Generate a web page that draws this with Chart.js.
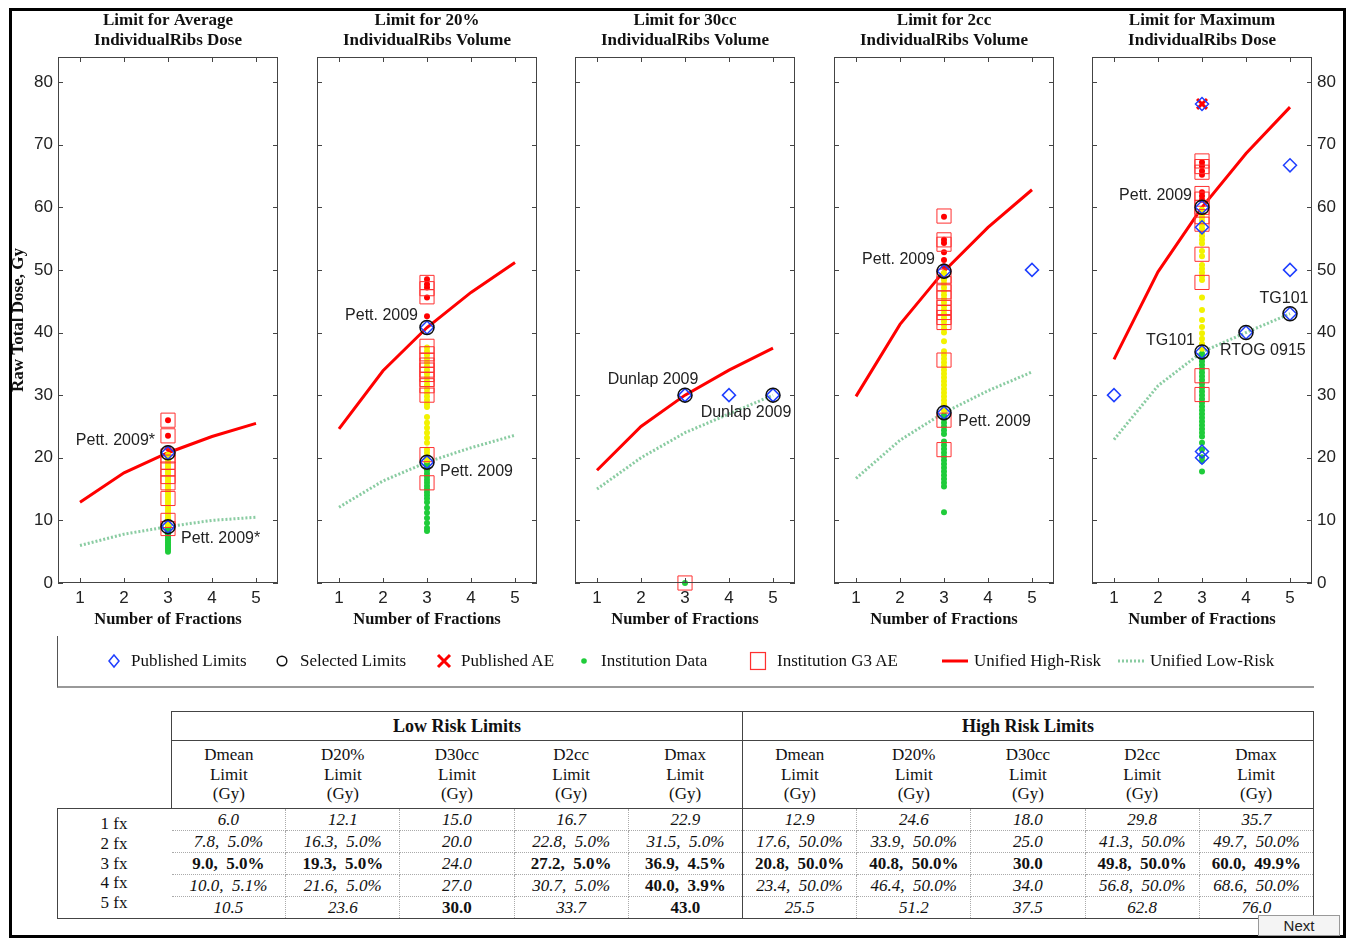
<!DOCTYPE html>
<html>
<head>
<meta charset="utf-8">
<script src="https://cdn.jsdelivr.net/npm/chart.js@4.4.0/dist/chart.umd.min.js"></script>
<style>
  body { margin: 0; background: #fff; width: 1349px; height: 938px; position: relative; overflow: hidden; font-family: "Liberation Serif", serif; color: #111; }
  #frame { position: absolute; left: 9px; top: 8px; width: 1331px; height: 924px; border: 3px solid #000; }
  .panel { position: absolute; top: 0; }
  #legend { position: absolute; left: 57px; top: 636px; width: 1256px; height: 50px; border-left: 1px solid #555; border-bottom: 2px solid #999; }
  .mk { position: absolute; top: 25px; transform: translate(-50%, -50%); line-height: 0; }
  .lt { position: absolute; top: 0; height: 50px; line-height: 50px; font-size: 17px; white-space: nowrap; }
  #limits { position: absolute; left: 57px; top: 711px; border-collapse: collapse; table-layout: fixed; width: 1256px; font-size: 17px; color: #111; }
  #limits td { padding: 0; text-align: center; white-space: nowrap; }
  #limits tr.h1 td { height: 28px; font-weight: bold; font-size: 18px; }
  #limits tr.h2 td { height: 67px; line-height: 19.5px; }
  #limits tr.d td { height: 21px; line-height: 21px; font-style: italic; }
  #limits tr.d td.b { font-weight: bold; font-style: normal; }
  #rowlabels { position: absolute; left: 57px; top: 814px; width: 114px; text-align: center; font-size: 17px; line-height: 19.8px; }
  #next { position: absolute; left: 1258px; top: 915px; width: 80px; height: 19px; border: 1px solid #999; background: #f4f4f4; font-family: "Liberation Sans", sans-serif; font-size: 15px; line-height: 19px; text-align: center; color: #222; }
</style>
</head>
<body>
<div id="frame"></div>
<div class="panel" style="left:0px"><canvas id="p0" width="336" height="640"></canvas></div>
<div class="panel" style="left:259px"><canvas id="p1" width="336" height="640"></canvas></div>
<div class="panel" style="left:517px"><canvas id="p2" width="336" height="640"></canvas></div>
<div class="panel" style="left:776px"><canvas id="p3" width="336" height="640"></canvas></div>
<div class="panel" style="left:1034px"><canvas id="p4" width="336" height="640"></canvas></div>
<div id="legend"></div>
<table id="limits"></table>
<div id="rowlabels"></div>
<div id="next">Next</div>

<script>
const fractions = [1, 2, 3, 4, 5];
const fxLabels = ['1 fx', '2 fx', '3 fx', '4 fx', '5 fx'];
const metrics = ['Dmean', 'D20%', 'D30cc', 'D2cc', 'Dmax'];
const panelTitles = [
  ['Limit for Average', 'IndividualRibs Dose'],
  ['Limit for 20%', 'IndividualRibs Volume'],
  ['Limit for 30cc', 'IndividualRibs Volume'],
  ['Limit for 2cc', 'IndividualRibs Volume'],
  ['Limit for Maximum', 'IndividualRibs Dose']
];
const yTicks = [0, 10, 20, 30, 40, 50, 60, 70, 80];

// unified limits, Gy, for 1..5 fractions
const lowDmean = [6.0, 7.8, 9.0, 10.0, 10.5];
const lowD20 = [12.1, 16.3, 19.3, 21.6, 23.6];
const lowD30cc = [15.0, 20.0, 24.0, 27.0, 30.0];
const lowD2cc = [16.7, 22.8, 27.2, 30.7, 33.7];
const lowDmax = [22.9, 31.5, 36.9, 40.0, 43.0];
const highDmean = [12.9, 17.6, 20.8, 23.4, 25.5];
const highD20 = [24.6, 33.9, 40.8, 46.4, 51.2];
const highD30cc = [18.0, 25.0, 30.0, 34.0, 37.5];
const highD2cc = [29.8, 41.3, 49.8, 56.8, 62.8];
const highDmax = [35.7, 49.7, 60.0, 68.6, 76.0];

// risk (%) printed next to the limit
const lowPctDmean = [null, 5.0, 5.0, 5.1, null];
const lowPctD20 = [null, 5.0, 5.0, 5.0, null];
const lowPctD30cc = [null, null, null, null, null];
const lowPctD2cc = [null, 5.0, 5.0, 5.0, null];
const lowPctDmax = [null, 5.0, 4.5, 3.9, null];
const highPctDmean = [null, 50.0, 50.0, 50.0, null];
const highPctD20 = [null, 50.0, 50.0, 50.0, null];
const highPctD30cc = [null, null, null, null, null];
const highPctD2cc = [null, 50.0, 50.0, 50.0, null];
const highPctDmax = [null, 50.0, 49.9, 50.0, null];

// which fractionations are "selected" limits (bold in table, circled in plot)
const selectedLowFx = [[3], [3], [5], [3], [3, 4, 5]];
const selectedHighFx = [[3], [3], [3], [3], [3]];

// published limits [fx, Gy]
const pubDmean = [[3, 20.8], [3, 9.0]];
const pubD20 = [[3, 40.8], [3, 19.3]];
const pubD30cc = [[3, 30], [4, 30], [5, 30]];
const pubD2cc = [[3, 49.8], [3, 27.2], [5, 50]];
const pubDmax = [[1, 30], [3, 76.5], [3, 60], [3, 56.8], [3, 36.9], [3, 21], [3, 20], [4, 40], [5, 66.7], [5, 50], [5, 43]];
// published adverse events [fx, Gy]
const aeDmax = [[3, 76.5]];

// institution data, all at 3 fractions (Gy)
const instDmean = [5.0, 5.3, 5.6, 5.9, 6.2, 6.5, 6.8, 7.1, 7.4, 7.7, 8.0, 8.3, 8.6, 8.9, 9.3, 9.7, 10.1, 10.5, 10.9, 11.3, 11.7, 12.1, 12.5, 12.9, 13.3, 13.7, 14.1, 14.5, 14.9, 15.3, 15.7, 16.1, 16.5, 16.9, 17.3, 17.7, 18.1, 18.5, 18.9, 19.3, 19.7, 20.1, 20.5, 21.5, 23.5, 26.0];
const instD20 = [8.3, 8.8, 9.6, 10.4, 11.2, 12.0, 12.9, 13.5, 14.0, 14.5, 15.0, 15.5, 16.0, 16.5, 17.0, 17.5, 18.0, 18.5, 19.0, 19.6, 20.2, 20.8, 21.3, 22.4, 23.2, 24.0, 24.8, 25.6, 26.5, 28.1, 28.6, 29.2, 29.8, 30.4, 31.0, 31.6, 32.2, 32.8, 33.4, 34.0, 34.6, 35.2, 35.8, 36.4, 37.0, 37.6, 42.6, 45.6, 47.2, 47.7, 48.5];
const instD30cc = [0.0];
const instD2cc = [11.3, 15.4, 16.0, 16.6, 17.2, 17.8, 18.4, 19.0, 19.6, 20.2, 20.8, 21.4, 22.0, 22.6, 23.8, 24.4, 25.0, 25.6, 26.2, 26.8, 27.6, 28.0, 28.6, 29.2, 29.8, 30.4, 31.0, 31.6, 32.2, 32.8, 33.4, 34.0, 34.6, 35.2, 35.8, 36.4, 37.0, 38.6, 40.0, 40.6, 41.2, 41.8, 42.4, 43.0, 43.6, 44.2, 44.8, 45.4, 46.0, 46.6, 47.2, 47.8, 48.4, 49.0, 49.5, 50.6, 51.6, 52.8, 54.3, 54.8, 58.5];
const instDmax = [17.8, 19.5, 20.1, 21.3, 22.4, 23.4, 24.0, 24.6, 25.2, 25.8, 26.4, 27.0, 27.6, 28.2, 28.8, 29.4, 30.0, 30.6, 31.2, 31.8, 32.4, 33.0, 33.6, 34.2, 34.8, 35.4, 36.0, 36.6, 37.4, 38.2, 39.0, 39.9, 40.9, 42.0, 43.6, 45.6, 48.4, 49.0, 49.6, 50.2, 50.8, 52.2, 53.0, 54.2, 54.8, 55.4, 56.0, 56.6, 57.2, 57.8, 58.4, 59.0, 59.6, 61.2, 61.8, 62.4, 65.2, 65.8, 66.6, 67.2];

// institution grade 3 adverse events, 3 fractions (Gy)
const g3Dmean = [26.0, 23.5, 20.3, 19.3, 18.2, 17.0, 16.0, 13.5, 10.0, 8.7];
const g3D20 = [48.0, 47.0, 45.7, 37.8, 36.6, 35.6, 34.8, 34.0, 33.3, 32.5, 31.5, 30.0, 20.5, 16.0];
const g3D30cc = [0.0];
const g3D2cc = [58.6, 54.8, 54.1, 49.0, 47.8, 46.5, 45.5, 44.0, 43.2, 42.4, 41.6, 35.6, 26.0, 21.3];
const g3Dmax = [67.4, 66.5, 65.6, 62.2, 61.3, 60.0, 58.5, 57.3, 52.5, 48.0, 33.1, 30.1];

// reference labels [text, fx, Gy]
const refLabels = [
  [['Pett. 2009*', 3, 20.8], ['Pett. 2009*', 3, 9.0]],
  [['Pett. 2009', 3, 40.8], ['Pett. 2009', 3, 19.3]],
  [['Dunlap 2009', 3, 30], ['Dunlap 2009', 5, 30]],
  [['Pett. 2009', 3, 49.8], ['Pett. 2009', 3, 27.2]],
  [['Pett. 2009', 3, 60], ['TG101', 3, 36.9], ['RTOG 0915', 4, 40], ['TG101', 5, 43]]
];
// where each label sits relative to its point: [dx px, dy px, align]
const labelPlacement = [
  [[-13, -12, 'right'], [13, 12, 'left']],
  [[-9, -12, 'right'], [13, 9, 'left']],
  [[-32, -16, 'center'], [-27, 17, 'center']],
  [[-9, -12, 'right'], [14, 9, 'left']],
  [[-10, -12, 'right'], [-7, -11, 'right'], [-26, 18, 'left'], [-6, -15, 'center']]
];

const lowLimits = [lowDmean, lowD20, lowD30cc, lowD2cc, lowDmax];
const highLimits = [highDmean, highD20, highD30cc, highD2cc, highDmax];
const lowPct = [lowPctDmean, lowPctD20, lowPctD30cc, lowPctD2cc, lowPctDmax];
const highPct = [highPctDmean, highPctD20, highPctD30cc, highPctD2cc, highPctDmax];
const published = [pubDmean, pubD20, pubD30cc, pubD2cc, pubDmax];
const publishedAE = [[], [], [], [], aeDmax];
const institution = [instDmean, instD20, instD30cc, instD2cc, instDmax];
const g3events = [g3Dmean, g3D20, g3D30cc, g3D2cc, g3Dmax];

const RED = '#ff0000', YELLOW = '#f2f200', GREEN = '#1fcc3a', BLUE = '#1f3fff';
const LOWLINE = 'rgba(60,170,100,0.6)';
const SANS = '"Liberation Sans", Arial, sans-serif';
const SERIF = '"Liberation Serif", "Times New Roman", serif';

Chart.defaults.font.family = SANS;
Chart.defaults.color = '#222';

// MATLAB-like box with inward ticks on every side
const boxTicks = {
  id: 'boxTicks',
  afterDraw(chart) {
    const { ctx, chartArea: a, scales: { x, y } } = chart;
    ctx.save();
    ctx.strokeStyle = '#444';
    ctx.lineWidth = 1;
    ctx.strokeRect(a.left + 0.5, a.top + 0.5, a.width - 1, a.height - 1);
    ctx.beginPath();
    x.ticks.forEach(t => {
      const px = Math.round(x.getPixelForValue(t.value)) + 0.5;
      ctx.moveTo(px, a.bottom); ctx.lineTo(px, a.bottom - 5);
      ctx.moveTo(px, a.top); ctx.lineTo(px, a.top + 5);
    });
    y.ticks.forEach(t => {
      const py = Math.round(y.getPixelForValue(t.value)) + 0.5;
      ctx.moveTo(a.left, py); ctx.lineTo(a.left + 5, py);
      ctx.moveTo(a.right, py); ctx.lineTo(a.right - 5, py);
    });
    ctx.stroke();
    ctx.restore();
  }
};

const refLabelPlugin = {
  id: 'refLabels',
  afterDatasetsDraw(chart, args, opts) {
    const { ctx, scales: { x, y } } = chart;
    ctx.save();
    ctx.font = '16px ' + SANS;
    ctx.fillStyle = '#222';
    ctx.textBaseline = 'middle';
    opts.items.forEach((it, i) => {
      const [dx, dy, align] = opts.place[i];
      ctx.textAlign = align;
      ctx.fillText(it[0], x.getPixelForValue(it[1]) + dx, y.getPixelForValue(it[2]) + dy);
    });
    ctx.restore();
  }
};

function yAxis(position, showLabels, title) {
  return {
    type: 'linear', position: position, min: 0, max: 84,
    afterBuildTicks: s => { s.ticks = yTicks.map(v => ({ value: v })); },
    afterFit: s => { s.width = 58; },
    grid: { display: false, drawTicks: false }, border: { display: false },
    ticks: { display: showLabels, padding: 5, font: { size: 17 } },
    title: title ? { display: true, text: title, font: { family: SERIF, size: 17, weight: 'bold' }, padding: { top: 8, bottom: 0 }, color: '#111' } : { display: false }
  };
}

metrics.forEach((m, i) => {
  const low = lowLimits[i], high = highLimits[i];
  const selected = selectedLowFx[i].map(fx => ({ x: fx, y: low[fx - 1] }))
    .concat(selectedHighFx[i].map(fx => ({ x: fx, y: high[fx - 1] })));
  const instColors = institution[i].map(v => v > high[2] ? RED : (v < low[2] ? GREEN : YELLOW));

  new Chart(document.getElementById('p' + i), {
    type: 'scatter',
    data: {
      datasets: [
        { label: 'Selected Limits', data: selected, pointStyle: 'circle', pointRadius: 7, borderColor: '#111', borderWidth: 1.5, backgroundColor: 'rgba(0,0,0,0)', clip: false },
        { label: 'Published Limits', data: published[i].map(p => ({ x: p[0], y: p[1] })), pointStyle: 'rectRot', pointRadius: 6.5, borderColor: BLUE, borderWidth: 1.5, backgroundColor: 'rgba(0,0,0,0)', clip: false },
        { label: 'Published AE', data: publishedAE[i].map(p => ({ x: p[0], y: p[1] })), pointStyle: 'crossRot', pointRadius: 7, borderColor: RED, borderWidth: 3, clip: false },
        { label: 'Institution G3 AE', data: g3events[i].map(v => ({ x: 3, y: v })), pointStyle: 'rect', pointRadius: 10, borderColor: '#ff3030', borderWidth: 1, backgroundColor: 'rgba(0,0,0,0)', clip: false },
        { label: 'Institution Data', data: institution[i].map(v => ({ x: 3, y: v })), pointStyle: 'circle', pointRadius: 3, borderWidth: 0, backgroundColor: instColors, clip: false },
        { label: 'Unified High-Risk', data: fractions.map((fx, k) => ({ x: fx, y: high[k] })), showLine: true, pointRadius: 0, borderColor: RED, borderWidth: 3, tension: 0 },
        { label: 'Unified Low-Risk', data: fractions.map((fx, k) => ({ x: fx, y: low[k] })), showLine: true, pointRadius: 0, borderColor: LOWLINE, borderWidth: 3, borderDash: [2, 2], tension: 0 }
      ]
    },
    options: {
      responsive: false,
      animation: false,
      devicePixelRatio: 1,
      layout: { padding: 0 },
      scales: {
        x: {
          type: 'linear', min: 0.5, max: 5.5,
          afterBuildTicks: s => { s.ticks = fractions.map(v => ({ value: v })); },
          afterFit: s => { s.height = 57; },
          grid: { display: false, drawTicks: false }, border: { display: false },
          ticks: { padding: 5, font: { size: 17 } },
          title: { display: true, text: 'Number of Fractions', font: { family: SERIF, size: 16.5, weight: 'bold' }, padding: { top: 0, bottom: 10 }, color: '#111' }
        },
        y: yAxis('left', i === 0, i === 0 ? 'Raw Total Dose, Gy' : null),
        y2: yAxis('right', i === 4, null)
      },
      plugins: {
        legend: { display: false },
        tooltip: { enabled: false },
        title: { display: true, text: panelTitles[i], font: { family: SERIF, size: 17, weight: 'bold', lineHeight: 1.2 }, padding: { top: 10.5, bottom: 5.7 }, color: '#111' },
        refLabels: { items: refLabels[i], place: labelPlacement[i] }
      }
    },
    plugins: [boxTicks, refLabelPlugin]
  });
});

// legend strip: [label, marker centre x, text left x, marker svg]
const legendItems = [
  ['Published Limits', 113, 130, '<svg width="14" height="16"><path d="M7 2 L12 8 L7 14 L2 8 Z" fill="none" stroke="' + BLUE + '" stroke-width="1.5"/></svg>'],
  ['Selected Limits', 281, 299, '<svg width="13" height="13"><circle cx="6.5" cy="6.5" r="4.8" fill="none" stroke="#111" stroke-width="1.5"/></svg>'],
  ['Published AE', 443, 460, '<svg width="16" height="16"><path d="M2 2 L14 14 M14 2 L2 14" stroke="' + RED + '" stroke-width="3"/></svg>'],
  ['Institution Data', 583, 600, '<svg width="12" height="12"><circle cx="6" cy="6" r="2.8" fill="' + GREEN + '"/></svg>'],
  ['Institution G3 AE', 757, 776, '<svg width="17" height="19"><rect x="1" y="1" width="15" height="17" fill="none" stroke="#ff3030" stroke-width="1.3"/></svg>'],
  ['Unified High-Risk', 954, 973, '<svg width="26" height="6"><line x1="0" y1="3" x2="26" y2="3" stroke="' + RED + '" stroke-width="3"/></svg>'],
  ['Unified Low-Risk', 1130, 1149, '<svg width="26" height="6"><line x1="0" y1="3" x2="26" y2="3" stroke="' + LOWLINE + '" stroke-width="3" stroke-dasharray="2 2"/></svg>']
];
const legend = document.getElementById('legend');
legendItems.forEach(([label, mx, tx, svg]) => {
  const mk = document.createElement('div');
  mk.className = 'mk';
  mk.style.left = (mx - 57) + 'px';
  mk.innerHTML = svg;
  legend.appendChild(mk);
  const t = document.createElement('div');
  t.className = 'lt';
  t.style.left = (tx - 57) + 'px';
  t.textContent = label;
  legend.appendChild(t);
});

// limits table
function cellText(v, p) {
  return v.toFixed(1) + (p == null ? '' : ',\u00a0 ' + p.toFixed(1) + '%');
}
const SOLID = '1px solid #444', DOT = '1px dotted #aaa';
const table = document.getElementById('limits');
let html = '<colgroup><col style="width:114px">' + '<col style="width:114.2px">'.repeat(10) + '</colgroup>';
html += '<tr class="h1"><td></td><td colspan="5" style="border:' + SOLID + '">Low Risk Limits</td><td colspan="5" style="border:' + SOLID + '">High Risk Limits</td></tr>';
html += '<tr class="h2"><td style="border-bottom:' + SOLID + '"></td>';
for (let g = 0; g < 2; g++) {
  metrics.forEach((m, k) => {
    let st = 'border-bottom:' + SOLID + ';';
    if (k === 0) st += 'border-left:' + SOLID + ';';
    if (k === 4) st += 'border-right:' + SOLID + ';';
    html += '<td style="' + st + '">' + m + '<br>Limit<br>(Gy)</td>';
  });
}
html += '</tr>';
fractions.forEach((fx, r) => {
  const last = r === fractions.length - 1;
  html += '<tr class="d"><td style="border-left:' + SOLID + ';' + (last ? 'border-bottom:' + SOLID : '') + '"></td>';
  [[lowLimits, lowPct, selectedLowFx], [highLimits, highPct, selectedHighFx]].forEach(([lim, pct, sel]) => {
    metrics.forEach((m, k) => {
      const st = 'border-bottom:' + (last ? SOLID : DOT) + ';border-right:' + (k === 4 ? SOLID : DOT) + ';';
      const cls = sel[k].includes(fx) ? ' class="b"' : '';
      html += '<td' + cls + ' style="' + st + '">' + cellText(lim[k][r], pct[k][r]) + '</td>';
    });
  });
  html += '</tr>';
});
table.innerHTML = html;
document.getElementById('rowlabels').innerHTML = fxLabels.join('<br>');
</script>
</body>
</html>
